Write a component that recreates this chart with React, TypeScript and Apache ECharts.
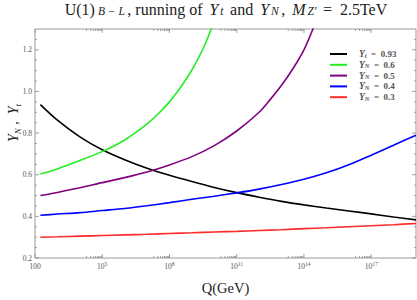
import React, { useEffect, useRef } from "react";
import * as echarts from "echarts";

// log10(Q / GeV)
const logQ = [2.24, 3, 4, 5, 6, 7, 8, 9, 10, 11, 12, 13, 14, 15, 16, 17, 18, 19];
const ytValues = [0.937, 0.862, 0.782, 0.72, 0.672, 0.631, 0.597, 0.567, 0.539, 0.514, 0.492, 0.472, 0.455, 0.44, 0.426, 0.412, 0.397, 0.383];
const logQ06 = [2.24, 3, 4, 5, 5.5, 6, 6.5, 7, 7.5, 8, 8.5, 9, 9.5, 9.9];
const yn06Values = [0.603, 0.628, 0.668, 0.711, 0.737, 0.767, 0.803, 0.844, 0.893, 0.95, 1.02, 1.103, 1.205, 1.31];
const logQ05 = [2.24, 3, 4, 5, 6, 7, 8, 9, 10, 11, 12, 12.5, 13, 13.5, 14, 14.42];
const yn05Values = [0.5, 0.515, 0.537, 0.562, 0.586, 0.613, 0.647, 0.687, 0.74, 0.81, 0.9, 0.962, 1.03, 1.108, 1.2, 1.305];
const yn04Values = [0.405, 0.411, 0.418, 0.428, 0.438, 0.451, 0.466, 0.482, 0.497, 0.513, 0.531, 0.553, 0.578, 0.609, 0.648, 0.694, 0.742, 0.79];
const yn03Values = [0.3, 0.302, 0.305, 0.308, 0.311, 0.314, 0.318, 0.321, 0.325, 0.328, 0.332, 0.336, 0.341, 0.345, 0.35, 0.355, 0.36, 0.366];

const seriesNames = ["Yt = 0.93", "YN = 0.6", "YN = 0.5", "YN = 0.4", "YN = 0.3"];
const legendLabels = [
  "{it|Y}{sub|t}{n|  =  0.93}",
  "{it|Y}{sub|N}{n|  =  0.6}",
  "{it|Y}{sub|N}{n|  =  0.5}",
  "{it|Y}{sub|N}{n|  =  0.4}",
  "{it|Y}{sub|N}{n|  =  0.3}",
];
const colors = ["#000000", "#22ee22", "#800080", "#0000ff", "#ff2a2a"];

const xMajorTicks = [2, 5, 8, 11, 14, 17];
const xLabelDecades = [5, 8, 11, 14, 17];
const yMajorTicks = [0.2, 0.4, 0.6, 0.8, 1.0, 1.2];
const yMinorTicks = [0.25, 0.3, 0.35, 0.45, 0.5, 0.55, 0.65, 0.7, 0.75, 0.85, 0.9, 0.95, 1.05, 1.1, 1.15, 1.25];

const X_MIN = 2;
const X_MAX = 19;
const Y_MIN = 0.2;
const Y_MAX = 1.3;

const SERIF = "'Liberation Serif', 'DejaVu Serif', serif";

function pairs(xs: number[], ys: number[]) {
  return xs.map((x, i) => [x, ys[i]]);
}

export default function App() {
  const ref = useRef<HTMLDivElement>(null);
  useEffect(() => {
    if (!ref.current) return;
    const chart = echarts.init(ref.current, undefined, { renderer: "svg" });

    // tick items: [kind, value, length]; kind 0 = x tick, 1 = y tick
    const tickData: number[][] = [];
    xMajorTicks.forEach((v) => tickData.push([0, v, 4]));
    xLabelDecades.forEach((d) => {
      for (let k = 2; k <= 9; k++) tickData.push([0, d - 1 + Math.log10(k), 2]);
    });
    yMajorTicks.forEach((v) => tickData.push([1, v, 4]));
    yMinorTicks.forEach((v) => tickData.push([1, v, 2]));

    const mk = (name: string, data: number[][], color: string) => ({
      name,
      type: "line",
      data,
      smooth: 0.3,
      showSymbol: false,
      symbol: "none",
      color,
      lineStyle: { width: 1.6, color },
      clip: true,
      z: 3,
    });

    const T = "#222";
    const option: any = {
      animation: false,
      backgroundColor: "#ffffff",
      title: {
        text:
          "{n|U(1)}{sub|B − L}{n|, running of }{it|Y}{sub|t}{n| and }{it|Y}{sub|N}{n|, }{it|M}{sub|Z′}{n| =  2.5TeV}",
        left: 226,
        textAlign: "center",
        top: 1,
        padding: 0,
        textStyle: {
          fontFamily: SERIF,
          fontSize: 16,
          fontWeight: "normal",
          color: T,
          lineHeight: 16,
          rich: {
            n: { fontFamily: SERIF, fontSize: 16, lineHeight: 16, color: T, padding: [0, 1, 0, 1] },
            sub: { fontFamily: SERIF, fontSize: 11.5, fontStyle: "italic", lineHeight: 8, verticalAlign: "bottom", color: T, padding: [0, 1.5, 0, 2] },
            it: { fontFamily: SERIF, fontSize: 16, fontStyle: "italic", lineHeight: 16, color: T, padding: [0, 0, 0, 2] },
          },
        },
      },
      grid: {
        left: 35,
        right: 1,
        top: 29,
        bottom: 36,
        show: true,
        borderColor: "#9a9a9a",
        borderWidth: 1,
        backgroundColor: "transparent",
      },
      legend: {
        orient: "vertical",
        left: 330,
        top: 49,
        padding: 0,
        icon: "rect",
        itemWidth: 17,
        itemHeight: 2,
        itemGap: 0.8,
        data: seriesNames,
        formatter: (name: string) => legendLabels[seriesNames.indexOf(name)],
        textStyle: {
          fontFamily: SERIF,
          fontSize: 9,
          color: "#555",
          lineHeight: 9,
          padding: [0, 0, 0, 7],
          rich: {
            it: { fontFamily: SERIF, fontSize: 9.5, fontStyle: "italic", fontWeight: "bold", color: "#555", lineHeight: 9 },
            sub: { fontFamily: SERIF, fontSize: 6.5, fontStyle: "italic", fontWeight: "bold", color: "#555", lineHeight: 6, verticalAlign: "bottom" },
            n: { fontFamily: SERIF, fontSize: 9, fontWeight: "bold", color: "#555", lineHeight: 9 },
          },
        },
      },
      xAxis: {
        type: "value",
        min: X_MIN,
        max: X_MAX,
        name: "Q(GeV)",
        nameLocation: "middle",
        nameGap: 22,
        nameTextStyle: { fontFamily: SERIF, fontSize: 14.5, color: T },
        axisLine: { show: false },
        axisTick: { show: false },
        splitLine: { show: false },
        axisLabel: {
          customValues: xMajorTicks,
          margin: 3,
          fontFamily: SERIF,
          fontSize: 7.5,
          color: "#555",
          formatter: (v: number) => (Math.abs(v - 2) < 1e-6 ? "{n|100}" : "{n|10}{sup|" + Math.round(v) + "}"),
          rich: {
            n: { fontFamily: SERIF, fontSize: 7.5, color: "#555", lineHeight: 10 },
            sup: { fontFamily: SERIF, fontSize: 5.5, color: "#555", lineHeight: 6, verticalAlign: "top" },
          },
        },
      },
      yAxis: {
        type: "value",
        min: Y_MIN,
        max: Y_MAX,
        interval: 0.2,
        axisLine: { show: false },
        axisTick: { show: false },
        splitLine: { show: false },
        axisLabel: {
          margin: 3,
          fontFamily: SERIF,
          fontSize: 7.5,
          color: "#555",
          showMaxLabel: false,
          formatter: (v: number) => v.toFixed(1),
        },
      },
      graphic: [
        {
          type: "text",
          x: 13,
          y: 123,
          rotation: Math.PI / 2,
          style: {
            text: "{it|Y}{sub|N}{n| ,  }{it|Y}{sub|t}",
            fontFamily: SERIF,
            fontSize: 14,
            fill: T,
            align: "center",
            verticalAlign: "middle",
            rich: {
              it: { fontFamily: SERIF, fontSize: 14, fontStyle: "italic", lineHeight: 18, fill: T } as any,
              sub: { fontFamily: SERIF, fontSize: 9, fontStyle: "italic", lineHeight: 10, verticalAlign: "bottom", fill: T } as any,
              n: { fontFamily: SERIF, fontSize: 14, lineHeight: 18, fill: T } as any,
            },
          },
        },
      ],
      series: [
        mk(seriesNames[0], pairs(logQ, ytValues), colors[0]),
        mk(seriesNames[1], pairs(logQ06, yn06Values), colors[1]),
        mk(seriesNames[2], pairs(logQ05, yn05Values), colors[2]),
        mk(seriesNames[3], pairs(logQ, yn04Values), colors[3]),
        mk(seriesNames[4], pairs(logQ, yn03Values), colors[4]),
        {
          name: "ticks",
          type: "custom",
          silent: true,
          clip: false,
          z: 2,
          data: tickData,
          renderItem: (_params: any, api: any) => {
            const kind = api.value(0);
            const v = api.value(1);
            const len = api.value(2);
            const style = { stroke: "#8a8a8a", lineWidth: 0.8 };
            if (kind === 0) {
              const b = api.coord([v, Y_MIN]);
              const t = api.coord([v, Y_MAX]);
              return {
                type: "group",
                children: [
                  { type: "line", shape: { x1: b[0], y1: b[1], x2: b[0], y2: b[1] - len }, style },
                  { type: "line", shape: { x1: t[0], y1: t[1], x2: t[0], y2: t[1] + len }, style },
                ],
              };
            }
            const l = api.coord([X_MIN, v]);
            const r = api.coord([X_MAX, v]);
            return {
              type: "group",
              children: [
                { type: "line", shape: { x1: l[0], y1: l[1], x2: l[0] + len, y2: l[1] }, style },
                { type: "line", shape: { x1: r[0], y1: r[1], x2: r[0] - len, y2: r[1] }, style },
              ],
            };
          },
        },
      ],
    };
    chart.setOption(option);
    return () => chart.dispose();
  }, []);
  return (
    <div
      ref={ref}
      style={{ position: "fixed", left: 0, top: 0, width: 417, height: 300, background: "#fff" }}
    />
  );
}
